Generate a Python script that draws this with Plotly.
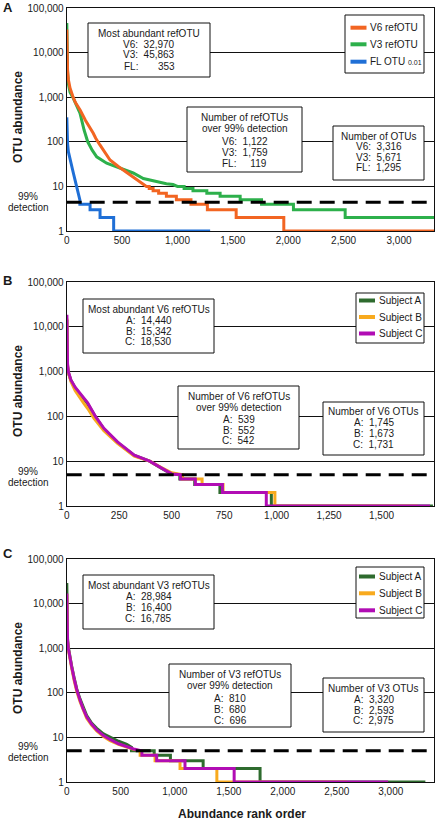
import plotly.graph_objects as go

W, H = 446, 822

# ---------------- data ----------------
# Panel A
a_v6_rank = [1, 2, 4, 8, 15, 30, 55, 80, 121, 170, 240, 262, 300, 340, 391, 466, 540, 620, 700, 720,
             745, 745, 780, 780, 830, 830, 900, 900, 990, 990, 1122, 1122, 1270, 1270, 1530, 1530, 1960, 1960, 3316]
a_v6_abund = [32970, 14000, 7000, 4000, 2500, 1600, 1050, 750, 515, 300, 155, 120, 85, 60, 39, 28, 21, 15, 11, 10,
              10, 9, 9, 8, 8, 7, 7, 6, 6, 5, 5, 4, 4, 3, 3, 2, 2, 1, 1]
a_v3_rank = [1, 2, 4, 8, 15, 30, 55, 90, 120, 157, 190, 230, 271, 361, 440, 520, 600, 692, 800, 900,
             960, 1000, 1060, 1060, 1140, 1140, 1265, 1265, 1385, 1385, 1566, 1566, 1759, 1759, 2047, 2047, 2514, 2514, 3316]
a_v3_abund = [45863, 18000, 7000, 3500, 2000, 1300, 1000, 650, 440, 184, 100, 65, 46, 33, 28, 24, 20, 15, 13, 11.5,
              11, 10, 10, 9, 9, 8, 8, 7, 7, 6, 6, 5, 5, 4, 4, 3, 3, 2, 2]
a_fl_rank = [1, 2, 4, 8, 15, 30, 45, 60, 75, 90, 105, 119, 119, 211, 211, 301, 301, 424, 424, 1295]
a_fl_abund = [353, 220, 140, 90, 60, 39, 27, 20, 14, 10, 7, 5, 4, 4, 3, 3, 2, 2, 1, 1]

# Panel B (V6 by subject)
b_a_rank = [1, 2, 4, 8, 20, 40, 60, 80, 100, 137, 177, 242, 322, 395, 451, 500, 539, 539, 610, 610, 730, 730, 975, 975, 1745]
b_a_abund = [14440, 2400, 1300, 950, 640, 430, 320, 250, 190, 98, 52, 26, 13.5, 10, 7, 5.2, 5, 4, 4, 3, 3, 2, 2, 1, 1]
b_b_rank = [1, 2, 4, 8, 20, 40, 60, 80, 100, 130, 177, 242, 322, 395, 451, 500, 552, 552, 645, 645, 745, 745, 992, 992, 1673]
b_b_abund = [15342, 2500, 1400, 950, 600, 380, 270, 200, 150, 90, 48, 25, 13, 10, 7.2, 5.5, 5, 4, 4, 3, 3, 2, 2, 1, 1]
b_c_rank = [1, 2, 4, 8, 20, 40, 60, 80, 100, 137, 177, 242, 322, 395, 451, 500, 542, 542, 613, 613, 742, 742, 951, 951, 1731]
b_c_abund = [18530, 3000, 1500, 1000, 650, 450, 340, 260, 200, 100, 54, 27, 13.7, 10, 7, 5.2, 5, 4, 4, 3, 3, 2, 2, 1, 1]

# Panel C (V3 by subject)
c_a_rank = [1, 2, 4, 8, 15, 30, 46, 70, 93, 123, 150, 185, 230, 278, 340, 401, 480, 556, 600, 600,
            810, 810, 960, 960, 1263, 1263, 1790, 1790, 3320]
c_a_abund = [28984, 8000, 3000, 1600, 1050, 620, 400, 210, 122, 73, 48, 31, 21, 16, 12, 10, 8.2, 7, 6, 5,
             5, 4, 4, 3, 3, 2, 2, 1, 1]
c_b_rank = [1, 2, 4, 8, 15, 30, 46, 70, 93, 123, 150, 185, 230, 278, 340, 401, 480, 556, 620, 680,
            680, 818, 818, 1049, 1049, 1390, 1390, 2593]
c_b_abund = [16400, 5500, 2300, 1400, 950, 560, 360, 185, 108, 64, 42, 27, 19, 14, 10.5, 8.5, 7, 6, 5.4, 5,
             4, 4, 3, 3, 2, 2, 1, 1]
c_c_rank = [1, 2, 4, 8, 15, 30, 46, 70, 93, 123, 150, 185, 230, 278, 340, 401, 480, 556, 620, 696,
            696, 833, 833, 1095, 1095, 1550, 1550, 2975]
c_c_abund = [16785, 6000, 2500, 1500, 1000, 600, 385, 200, 116, 69, 45, 29, 20, 14.7, 11, 9, 7.2, 6.2, 5.5, 5,
             4, 4, 3, 3, 2, 2, 1, 1]

detection_a = 4.4
detection_bc = 5

y_tickvals = [1, 10, 100, 1000, 10000, 100000]
y_ticktext = ["1", "10", "100", "1,000", "10,000", "100,000"]
xa_tickvals = [0, 500, 1000, 1500, 2000, 2500, 3000]
xa_ticktext = ["0", "500", "1,000", "1,500", "2,000", "2,500", "3,000"]
xb_tickvals = [0, 250, 500, 750, 1000, 1250, 1500, 1750]
xb_ticktext = ["0", "250", "500", "750", "1,000", "1,250", "1,500", "1,750"]
xa_max, xb_max, xc_max = 3316, 1750, 3400

# colours
C_V6 = "#F26522"
C_V3 = "#2DB04B"
C_FL = "#1F6FD6"
C_SA = "#2E6B2E"
C_SB = "#F8AA1E"
C_SC = "#B10DB4"

FONT = "Liberation Sans, Arial, Helvetica, sans-serif"
TXT = "#1a1a1a"
NB = "\u00a0"


def px(x):
    return x / W


def py(y):
    return 1 - y / H


fig = go.Figure()

panels = [
    ("x", "y", [(a_v3_rank, a_v3_abund, C_V3, "V3 refOTU"),
                (a_v6_rank, a_v6_abund, C_V6, "V6 refOTU"),
                (a_fl_rank, a_fl_abund, C_FL, "FL OTU 0.01")], xa_max, detection_a),
    ("x2", "y2", [(b_a_rank, b_a_abund, C_SA, "Subject A"),
                  (b_b_rank, b_b_abund, C_SB, "Subject B"),
                  (b_c_rank, b_c_abund, C_SC, "Subject C")], xb_max, detection_bc),
    ("x3", "y3", [(c_a_rank, c_a_abund, C_SA, "Subject A"),
                  (c_b_rank, c_b_abund, C_SB, "Subject B"),
                  (c_c_rank, c_c_abund, C_SC, "Subject C")], xc_max, detection_bc),
]

for xr, yr, series, xmax, det in panels:
    for rk, ab, col, name in series:
        fig.add_trace(go.Scatter(x=rk, y=ab, mode="lines", name=name,
                                 line=dict(color=col, width=3), xaxis=xr, yaxis=yr,
                                 showlegend=False, hoverinfo="skip"))
    fig.add_trace(go.Scatter(x=[0, xmax], y=[det, det], mode="lines", name="99% detection",
                             line=dict(color="black", width=3, dash="15px,8px"),
                             xaxis=xr, yaxis=yr, showlegend=False, hoverinfo="skip"))

xdom = [px(66.7), px(434)]
ydoms = [[py(231), py(8)], [py(506), py(282)], [py(782), py(559)]]

axis_common = dict(showline=True, mirror=True, linecolor="#111", linewidth=1,
                   ticks="", zeroline=False, automargin=False,
                   tickfont=dict(family=FONT, size=10, color=TXT))

layout = dict(width=W, height=H, margin=dict(l=0, r=0, t=0, b=0),
              paper_bgcolor="white", plot_bgcolor="white", showlegend=False)

xinfo = [(xa_max, xa_tickvals, xa_ticktext), (xb_max, xb_tickvals, xb_ticktext),
         (xc_max, xa_tickvals, xa_ticktext)]
for i in range(3):
    sx = "" if i == 0 else str(i + 1)
    xmax, tv, tt = xinfo[i]
    layout["xaxis" + sx] = dict(axis_common, domain=xdom, range=[0, xmax], anchor="y" + sx,
                                tickvals=tv, ticktext=tt, showgrid=False)
    layout["yaxis" + sx] = dict(axis_common, domain=ydoms[i], type="log", range=[0, 5],
                                anchor="x" + sx, tickvals=y_tickvals, ticktext=y_ticktext,
                                showgrid=True, gridcolor="#111", gridwidth=1)
fig.update_layout(**layout)

shapes = []
annos = []


def text(x, y, s, size=10, bold=False, anchor="center", angle=0):
    annos.append(dict(x=px(x), y=py(y), xref="paper", yref="paper", text=("<b>%s</b>" % s) if bold else s,
                      showarrow=False, xanchor=anchor, yanchor="middle", textangle=angle,
                      font=dict(family=FONT, size=size, color=TXT)))


def rect(x0, y0, x1, y1):
    shapes.append(dict(type="rect", xref="paper", yref="paper", x0=px(x0), x1=px(x1), y0=py(y1), y1=py(y0),
                       line=dict(color="#111", width=1), fillcolor="white", layer="above"))


boxes = [
    ((88, 23, 210, 77), 149, [("Most abundant refOTU", 33), ("V6:  32,970", 44), ("V3:  45,863", 55),
                              ("FL:       353", 66)]),
    ((187, 107, 302, 172), 244.5, [("Number of refOTUs", 118), ("over 99% detection", 129), ("V6:  1,122", 141),
                                   ("V3:  1,759", 152), ("FL:     119", 163)]),
    ((333, 126, 424, 180), 378.5, [("Number of OTUs", 136), ("V6:  3,316", 147), ("V3:  5,671", 157.5),
                                   ("FL:  1,295", 168)]),
    ((83, 299, 214, 353), 148.5, [("Most abundant V6 refOTUs", 309.5), ("A:  14,440", 320), ("B:  15,342", 331),
                                  ("C:  18,530", 341.5)]),
    ((178, 386, 299, 449), 238.5, [("Number of V6 refOTUs", 396.5), ("over 99% detection", 407.5),
                                   ("A:  539", 419.5), ("B:  552", 430.5), ("C:  542", 441)]),
    ((323, 402, 424, 455), 373.5, [("Number of V6 OTUs", 411.5), ("A:  1,745", 422.5), ("B:  1,673", 433.5),
                                   ("C:  1,731", 444)]),
    ((83, 575, 214, 629), 148.5, [("Most abundant V3 refOTUs", 585.5), ("A:  28,984", 596.5), ("B:  16,400", 607.5),
                                  ("C:  16,785", 618)]),
    ((169, 664, 291, 727), 230, [("Number of V3 refOTUs", 674), ("over 99% detection", 685.5),
                                 ("A:  810", 698), ("B:  680", 709), ("C:  696", 720)]),
    ((323, 678, 424, 732), 373.5, [("Number of V3 OTUs", 688), ("A:  3,320", 699), ("B:  2,593", 710),
                                   ("C:  2,975", 720.5)]),
]
for (x0, y0, x1, y1), cx, lines in boxes:
    rect(x0, y0, x1, y1)
    for s, yy in lines:
        text(cx, yy, s.replace(" ", NB))

legends = [
    ((345, 15, 424, 73), 350.5, 366.5, 368,
     [(C_V6, "V6 refOTU", 27.7), (C_V3, "V3 refOTU", 44.3),
      (C_FL, "FL OTU <span style='font-size:7px'>0.01</span>", 61.7)]),
    ((356, 293, 424, 343), 359, 375, 376.5,
     [(C_SA, "Subject A", 300.5), (C_SB, "Subject B", 317), (C_SC, "Subject C", 333.5)]),
    ((356, 567, 424, 618), 359, 375, 376.5,
     [(C_SA, "Subject A", 576.5), (C_SB, "Subject B", 593.3), (C_SC, "Subject C", 610.3)]),
]
for (x0, y0, x1, y1), lx0, lx1, tx, items in legends:
    rect(x0, y0, x1, y1)
    for col, s, yy in items:
        shapes.append(dict(type="line", xref="paper", yref="paper", x0=px(lx0), x1=px(lx1), y0=py(yy), y1=py(yy),
                           line=dict(color=col, width=4), layer="above"))
        text(tx, yy, s, anchor="left")

# detection labels
for y1_, y2_ in [(196.7, 207.7), (471.5, 482.5), (746.5, 757.5)]:
    text(28, y1_, "99%")
    text(28, y2_, "detection")

# panel letters
for s, yy in [("A", 7), ("B", 280), ("C", 553)]:
    text(1, yy, s, size=13, bold=True, anchor="left")

# y titles
for yy in [117, 391, 668]:
    text(18, yy, "OTU abundance", size=12, bold=True, angle=-90)

# x title
text(242, 814, "Abundance rank order", size=12, bold=True)

fig.update_layout(shapes=shapes, annotations=annos)
fig.write_html("out.html", config={"displayModeBar": False, "staticPlot": True},
               post_script="document.body.style.margin='0';document.body.style.overflow='hidden';")
